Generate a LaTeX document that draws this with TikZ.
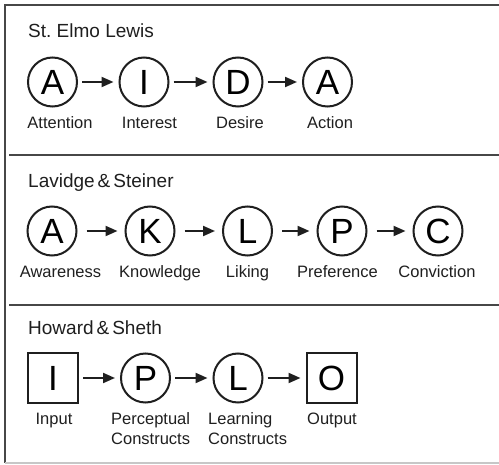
\documentclass[tikz,border=0pt]{standalone}
\usepackage{fontspec}
\setmainfont{Liberation Sans}
\usetikzlibrary{arrows.meta}
\begin{document}
\begin{tikzpicture}[x=1pt,y=-1pt,
  ink/.style={draw=black!88, line width=2pt},
  stage/.style={ink, circle, minimum size=49pt, inner sep=0pt, font=\fontsize{35}{35}\selectfont},
  box/.style={ink, rectangle, minimum size=50pt, inner sep=0pt, font=\fontsize{35}{35}\selectfont},
  lbl/.style={font=\fontsize{16.5}{20}\selectfont, anchor=base, inner sep=0pt, text=black!88},
  lbll/.style={lbl, anchor=base west},
  ttl/.style={font=\fontsize{19}{22}\selectfont, anchor=base west, inner sep=0pt, text=black!88},
  flow/.style={line width=2pt, draw=black!88, -{Triangle[length=12pt,width=10pt]}, shorten >=5pt, shorten <=4pt},
  wideflow/.style={flow, shorten >=7pt, shorten <=9pt},
  rule/.style={draw=black!72, line width=1.4pt}]
\useasboundingbox (0,0) rectangle (499,465);
\fill[white] (0,0) rectangle (499,465);
% frame
\coordinate (tl) at (5,5);
\coordinate (tr) at (499,5);
\coordinate (bl) at (5,463);
\coordinate (br) at (499,463);
\coordinate (s1l) at (9,155);
\coordinate (s1r) at (499,155);
\coordinate (s2l) at (9,305);
\coordinate (s2r) at (499,305);
\draw[rule] (bl) -- (tl) -- (tr);
\draw[draw=black!22, line width=1.4pt] (bl) -- (br);
\draw[rule] (s1l) -- (s1r);
\draw[rule] (s2l) -- (s2r);

% Row 1
\node[ttl] (t1) at (28,38) {St.\ Elmo Lewis};
\node[stage] (a1) at (52.5,82) {A};
\node[stage] (i1) at (144,82) {I};
\node[stage] (d1) at (238,82) {D};
\node[stage] (a2) at (327.5,82) {A};
\draw[flow] (a1) -- (i1);
\draw[flow] (i1) -- (d1);
\draw[flow] (d1) -- (a2);
\node[lbl] (la1) at (60,129) {Attention};
\node[lbl] (li1) at (149.5,129) {Interest};
\node[lbl] (ld1) at (240,129) {Desire};
\node[lbl] (la2) at (330,129) {Action};

% Row 2
\node[ttl] (t2) at (28,188) {Lavidge\kern3pt\&\kern3pt Steiner};
\node[stage] (a3) at (52,231) {A};
\node[stage] (k3) at (150,231) {K};
\node[stage] (l3) at (247.5,231) {L};
\node[stage] (p3) at (342,231) {P};
\node[stage] (c3) at (438,231) {C};
\draw[wideflow] (a3) -- (k3);
\draw[wideflow] (k3) -- (l3);
\draw[wideflow] (l3) -- (p3);
\draw[wideflow] (p3) -- (c3);
\node[lbl] (la3) at (60.5,278) {Awareness};
\node[lbl] (lk3) at (160,278) {Knowledge};
\node[lbl] (ll3) at (247.5,278) {Liking};
\node[lbl] (lp3) at (337.5,278) {Preference};
\node[lbl] (lc3) at (437,278) {Conviction};

% Row 3
\node[ttl] (t3) at (28,335) {Howard\kern3pt\&\kern3pt Sheth};
\node[box] (i5) at (53,378) {I};
\node[stage] (p5) at (145.5,378) {P};
\node[stage] (l5) at (238,378) {L};
\node[box] (o5) at (331.5,378) {O};
\draw[flow] (i5) -- (p5);
\draw[flow] (p5) -- (l5);
\draw[flow] (l5) -- (o5);
\node[lbl] (li5) at (54,425) {Input};
\node[lbll] (lp5a) at (111,425) {Perceptual};
\node[lbll] (lp5b) at (111,445) {Constructs};
\node[lbll] (ll5a) at (208,425) {Learning};
\node[lbll] (ll5b) at (208,445) {Constructs};
\node[lbl] (lo5) at (332,425) {Output};
\end{tikzpicture}
\end{document}
